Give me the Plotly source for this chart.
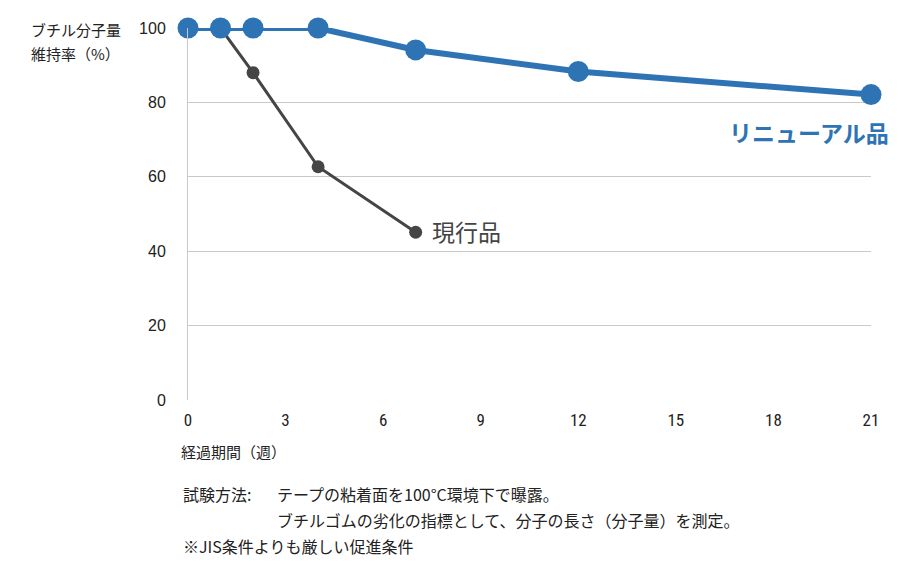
import plotly.graph_objects as go

weeks_new = [0, 1, 2, 4, 7, 12, 21]
values_new = [100, 100, 100, 100, 94.1, 88.3, 82.1]
weeks_cur = [1, 2, 4, 7]
values_cur = [100, 88, 62.7, 45.1]
x_ticks = [0, 3, 6, 9, 12, 15, 18, 21]
y_ticks = [0, 20, 40, 60, 80, 100]

JP = "Noto Sans CJK JP, sans-serif"
BLUE = "#2E74B5"
GRAY = "#454545"

# page has an 8px body margin; plot area in page pixels: x 188..871, y 25..400
PL, PR, PT, PB = 188, 871, 25, 400
OFF = 8
W, H = 900 - OFF, 568 - OFF
pw, ph = PR - PL, PB - PT

def px(x):
    return (x - PL) / pw

def py(y):
    return (PB - y) / ph

fig = go.Figure()
fig.add_trace(go.Scatter(x=weeks_cur, y=values_cur, mode="lines+markers",
                         line=dict(color=GRAY, width=3),
                         marker=dict(color=GRAY, size=13), cliponaxis=False,
                         showlegend=False))
fig.add_trace(go.Scatter(x=weeks_new, y=values_new, mode="lines+markers",
                         line=dict(color=BLUE, width=6),
                         marker=dict(color=BLUE, size=21), cliponaxis=False,
                         showlegend=False))

fig.update_layout(
    width=W, height=H,
    margin=dict(l=PL - OFF, r=900 - PR, t=PT - OFF, b=568 - PB),
    plot_bgcolor="white", paper_bgcolor="white",
    font=dict(family="Liberation Sans, Arial, sans-serif", size=16, color="#222"),
    xaxis=dict(range=[0, 21], tickvals=x_ticks, showgrid=False, zeroline=False,
               showline=False, ticks="outside", ticklen=0, ticklabelstandoff=5,
               tickfont=dict(family="Liberation Sans Narrow, Roboto Condensed, Liberation Sans, sans-serif", size=17)),
    yaxis=dict(range=[0, 100], tickvals=y_ticks, showgrid=True, gridcolor="#c9c9c9",
               gridwidth=1, zeroline=False, showline=True, linecolor="#c9c9c9",
               linewidth=1, ticks="outside", ticklen=0, ticklabelstandoff=18),
)

def ann(x, y, text, size, color="#222"):
    return dict(x=px(x), y=py(y), text=text, xanchor="left", yanchor="middle",
                xref="paper", yref="paper", showarrow=False,
                font=dict(family=JP, size=size, color=color))

annotations = [
    ann(29, 27, "ブチル分子量", 15),
    ann(29, 51, "維持率（%）", 15),
    ann(179, 452, "経過期間（週）", 15),
    ann(181, 495, "試験方法:", 16),
    ann(275, 495, "テープの粘着面を100°C環境下で曝露。", 16),
    ann(275, 521, "ブチルゴムの劣化の指標として、分子の長さ（分子量）を測定。", 16),
    ann(181, 547, "※JIS条件よりも厳しい促進条件", 16),
    ann(727, 130, "<b>リニューアル品</b>", 23, BLUE),
    ann(430, 230, "現行品", 23, "#444"),
]
fig.update_layout(annotations=annotations)

fig.write_html("out.html")
